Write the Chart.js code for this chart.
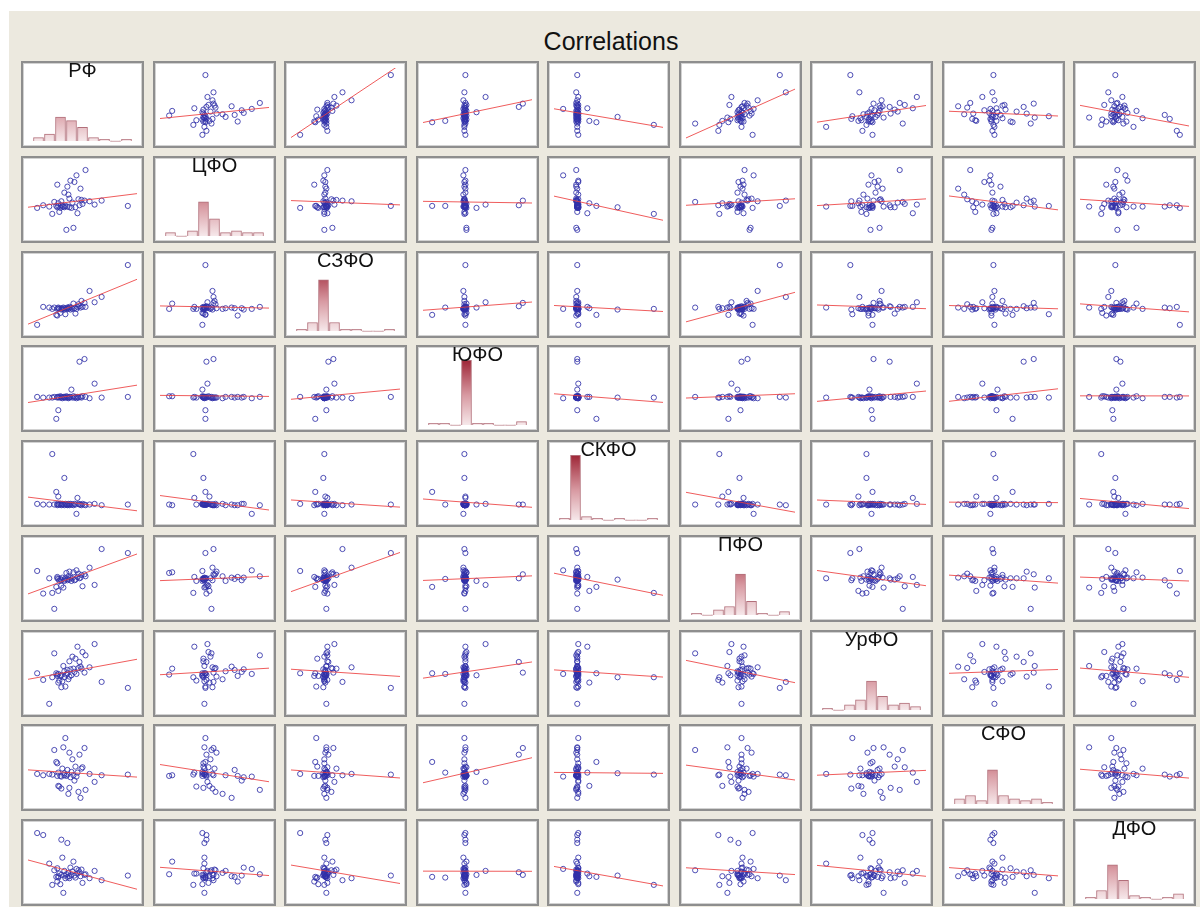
<!DOCTYPE html>
<html>
<head>
<meta charset="utf-8">
<title>Correlations</title>
<script src="https://cdn.jsdelivr.net/npm/chart.js@4.4.1/dist/chart.umd.min.js"></script>
<style>
  html, body { margin: 0; padding: 0; background: #ffffff; }
  body { position: relative; width: 1200px; height: 907px; overflow: hidden; font-family: "Liberation Sans", Arial, sans-serif; }
  #page { position: absolute; left: 9px; top: 11px; width: 1191px; height: 896px; background: #ECE9DF; }
  #title { position: absolute; left: 411px; width: 400px; top: 27px; line-height: 28px; text-align: center;
           font-size: 25px; color: #111; }
  .cell { position: absolute; box-sizing: border-box; width: 123px; height: 87px; background: #fff;
          border: 2px solid #8e8e8e; box-shadow: inset 0 0 0 1px #d2d2d2; }
  .cell canvas { display: block; position: absolute; left: 0; top: 0; }
  .lbl { position: absolute; left: 0; right: 0; top: -3px; line-height: 20px; text-align: center;
         font-size: 20px; color: #111; z-index: 2; pointer-events: none; }
</style>
</head>
<body>
<div id="page"></div>
<div id="title">Correlations</div>
<div id="grid"></div>
<script>
// Variable names (federal districts and the Russian Federation total)
const names = ['РФ', 'ЦФО', 'СЗФО', 'ЮФО', 'СКФО', 'ПФО', 'УрФО', 'СФО', 'ДФО'];

// One value per observation for each variable (44 observations)
const rf   = [9.0, 6.4, 5.7, 5.2, 4.8, 4.7, 4.5, 4.4, 4.3, 4.2, 4.1, 4.0, 3.9, 3.8, 3.7, 3.6, 3.5, 3.4, 3.3, 3.2, 3.2, 3.1,
              3.0, 3.0, 2.9, 2.8, 2.7, 2.7, 2.6, 2.5, 2.4, 2.4, 2.3, 2.2, 2.1, 2.1, 2.0, 2.0, 1.9, 1.7, 1.5, 1.2, 0.6, 0.0];
const cfo  = [3.6, 4.4, 3.8, 4.3, 9.0, 4.4, 3.9, 4.5, 6.2, 3.7, 4.6, 2.5, 8.2, 3.4, 7.2, 0.3, 4.1, 3.3, 7.4, 4.7, 3.4, 5.3,
              3.5, 6.5, 0.0, 3.6, 5.6, 3.4, 3.5, 3.5, 3.7, 4.3, 3.3, 2.7, 3.6, 4.0, 3.4, 6.8, 3.6, 4.2, 2.4, 3.5, 3.7, 3.3];
const szfo = [9.0, 4.2, 3.4, 5.1, 2.7, 3.3, 2.7, 3.6, 2.6, 2.8, 3.1, 2.7, 2.4, 1.7, 2.5, 3.2, 2.4, 2.6, 2.3, 2.5, 2.7, 2.4,
              2.6, 2.5, 2.4, 1.6, 2.5, 2.3, 2.6, 2.4, 2.5, 2.3, 1.8, 2.4, 2.6, 2.5, 2.4, 1.4, 1.5, 2.6, 2.4, 2.6, 2.7, 0.0];
const yufo = [3.3, 3.2, 5.3, 3.1, 3.3, 9.0, 3.4, 3.2, 3.3, 8.6, 3.2, 3.3, 3.1, 3.3, 3.2, 3.4, 3.2, 4.4, 3.3, 3.2, 3.3, 3.1,
              3.3, 3.2, 3.4, 3.2, 3.3, 3.2, 3.3, 3.1, 3.3, 3.2, 3.4, 3.2, 1.3, 3.3, 3.2, 3.3, 0.0, 3.3, 3.2, 3.2, 3.2, 3.3];
const skfo = [1.4, 1.3, 1.5, 1.4, 1.3, 1.4, 1.5, 1.3, 1.4, 1.4, 1.5, 2.4, 0.0, 1.4, 1.5, 1.3, 1.4, 1.4, 1.5, 1.3, 1.4, 1.5,
              1.4, 1.3, 1.4, 1.5, 1.3, 5.4, 1.4, 1.5, 1.4, 1.3, 1.5, 1.4, 1.4, 2.6, 1.5, 1.3, 3.3, 1.4, 9.0, 1.4, 1.4, 1.5];
const pfo  = [8.4, 9.0, 3.6, 6.2, 4.9, 5.2, 3.4, 5.1, 4.7, 4.6, 5.3, 4.8, 5.8, 4.4, 4.3, 5.5, 4.6, 4.2, 4.7, 5.6, 4.4, 4.9,
              4.3, 4.5, 5.4, 4.6, 4.2, 4.4, 3.2, 4.7, 3.5, 4.3, 4.5, 4.2, 4.5, 2.7, 4.6, 4.8, 3.3, 0.0, 2.4, 4.6, 2.3, 5.7];
const urfo = [2.4, 3.3, 9.0, 5.5, 7.3, 4.7, 7.8, 5.3, 5.6, 6.3, 5.4, 8.6, 4.5, 6.8, 4.8, 5.3, 7.1, 4.3, 5.2, 4.1, 6.4, 3.7,
              4.6, 5.1, 4.4, 2.6, 4.9, 4.0, 5.7, 3.4, 4.3, 2.5, 4.2, 3.5, 4.5, 3.2, 4.4, 4.2, 4.6, 7.6, 4.0, 0.0, 3.6, 4.6];
const sfo  = [3.5, 3.4, 2.4, 3.6, 1.2, 7.5, 4.6, 4.4, 0.0, 6.5, 0.9, 3.8, 3.2, 4.7, 2.6, 3.4, 5.8, 3.9, 3.1, 6.8, 1.5, 0.6,
              3.5, 4.2, 3.3, 9.0, 3.4, 3.7, 7.6, 4.4, 3.2, 1.4, 3.3, 1.7, 3.8, 1.8, 5.2, 3.3, 5.4, 7.2, 3.5, 3.6, 3.4, 3.6];
const dfo  = [2.6, 1.9, 3.3, 2.2, 2.8, 2.7, 1.5, 3.5, 2.5, 3.1, 3.4, 2.9, 3.6, 2.3, 2.6, 4.7, 3.2, 2.7, 3.8, 2.5, 2.2, 3.0,
              7.5, 2.4, 2.8, 2.2, 3.3, 2.6, 0.0, 5.3, 8.0, 2.7, 1.3, 2.9, 2.3, 2.5, 3.7, 1.7, 2.4, 3.4, 1.2, 4.4, 8.7, 9.0];

const series = [rf, cfo, szfo, yufo, skfo, pfo, urfo, sfo, dfo];
const N = rf.length;
const BINS = 9;

// Cell geometry of the matrix
const CELL_W = 123, CELL_H = 87, BORDER = 2;
const CANVAS_W = CELL_W - 2 * BORDER, CANVAS_H = CELL_H - 2 * BORDER;
const GRID_X = 21, GRID_Y = 61, STEP_X = 131.5, STEP_Y = 94.75;

const POINT_COLOR = 'rgba(48, 48, 168, 0.85)';
const FIT_COLOR = 'rgba(236, 64, 64, 0.85)';

function extent(a) { return [Math.min(...a), Math.max(...a)]; }
// horizontal axis: 10px of margin on each side of the data
function xRange(a) {
  const [lo, hi] = extent(a); const r = (hi - lo) || 1;
  const k = r / (CANVAS_W - 20);
  return { min: lo - 10 * k, max: hi + 10 * k };
}
// vertical axis: 8px margin on top, 7px at the bottom
function yRange(a) {
  const [lo, hi] = extent(a); const r = (hi - lo) || 1;
  const k = r / (CANVAS_H - 15);
  return { min: lo - 7 * k, max: hi + 8 * k };
}
// least-squares line of y on x
function fit(x, y) {
  const n = x.length;
  let mx = 0, my = 0;
  for (let i = 0; i < n; i++) { mx += x[i]; my += y[i]; }
  mx /= n; my /= n;
  let sxy = 0, sxx = 0;
  for (let i = 0; i < n; i++) { sxy += (x[i] - mx) * (y[i] - my); sxx += (x[i] - mx) * (x[i] - mx); }
  const b = sxx ? sxy / sxx : 0;
  return { a: my - b * mx, b };
}
function histogram(a) {
  const [lo, hi] = extent(a);
  const w = (hi - lo) / BINS;
  const counts = new Array(BINS).fill(0);
  a.forEach(v => { counts[Math.min(BINS - 1, Math.floor((v - lo) / w + 1e-9))]++; });
  return counts.map((c, k) => ({ x: lo + (k + 0.5) * w, y: c }));
}

const baseOptions = () => ({
  responsive: false,
  animation: false,
  devicePixelRatio: 1,
  events: [],
  layout: { padding: 0 },
  plugins: { legend: { display: false }, tooltip: { enabled: false }, title: { display: false } }
});

function barFill(ctx) {
  const chart = ctx.chart;
  if (!chart.chartArea || !chart.scales.y) return '#d9a3aa';
  const base = chart.scales.y.getPixelForValue(0);
  const g = chart.ctx.createLinearGradient(0, base, 0, base - 66);
  g.addColorStop(0, '#f6e8ea');
  g.addColorStop(0.45, '#d89aa2');
  g.addColorStop(1, '#9c2233');
  return g;
}

const grid = document.getElementById('grid');

for (let i = 0; i < 9; i++) {
  for (let j = 0; j < 9; j++) {
    const cell = document.createElement('div');
    cell.className = 'cell';
    cell.style.left = Math.round(GRID_X + j * STEP_X) + 'px';
    cell.style.top = Math.round(GRID_Y + i * STEP_Y) + 'px';
    const cv = document.createElement('canvas');
    cv.width = CANVAS_W; cv.height = CANVAS_H;
    cv.style.width = CANVAS_W + 'px'; cv.style.height = CANVAS_H + 'px';
    cell.appendChild(cv);
    grid.appendChild(cell);

    const xs = series[j], ys = series[i];
    const xr = xRange(xs);

    if (i === j) {
      const lbl = document.createElement('div');
      lbl.className = 'lbl';
      lbl.textContent = names[i];
      cell.appendChild(lbl);
      const [lo, hi] = extent(xs);
      const binPx = CANVAS_W / (xr.max - xr.min) * (hi - lo) / BINS;
      const opts = baseOptions();
      opts.scales = {
        x: { type: 'linear', display: false, offset: false, min: xr.min, max: xr.max },
        y: { type: 'linear', display: false, min: -N * 5 / 75, max: N * 78 / 75 }
      };
      new Chart(cv, {
        type: 'bar',
        data: {
          datasets: [{
            data: histogram(xs),
            backgroundColor: barFill,
            borderColor: 'rgba(170, 95, 108, 0.9)',
            borderWidth: 1,
            borderSkipped: 'bottom',
            barThickness: Math.max(1, Math.round(binPx - 1)),
            minBarLength: 1
          }]
        },
        options: opts
      });
    } else {
      const yr = yRange(ys);
      const f = fit(xs, ys);
      const opts = baseOptions();
      opts.scales = {
        x: { type: 'linear', display: false, min: xr.min, max: xr.max },
        y: { type: 'linear', display: false, min: yr.min, max: yr.max }
      };
      new Chart(cv, {
        type: 'scatter',
        data: {
          datasets: [
            {
              data: [{ x: xr.min, y: f.a + f.b * xr.min }, { x: xr.max, y: f.a + f.b * xr.max }],
              showLine: true,
              borderColor: FIT_COLOR,
              borderWidth: 1,
              pointRadius: 0,
              order: 0
            },
            {
              data: xs.map((v, k) => ({ x: v, y: ys[k] })),
              pointStyle: 'circle',
              pointRadius: 2.6,
              borderColor: POINT_COLOR,
              backgroundColor: 'rgba(0,0,0,0)',
              borderWidth: 1,
              order: 1
            }
          ]
        },
        options: opts
      });
    }
  }
}
</script>
</body>
</html>
